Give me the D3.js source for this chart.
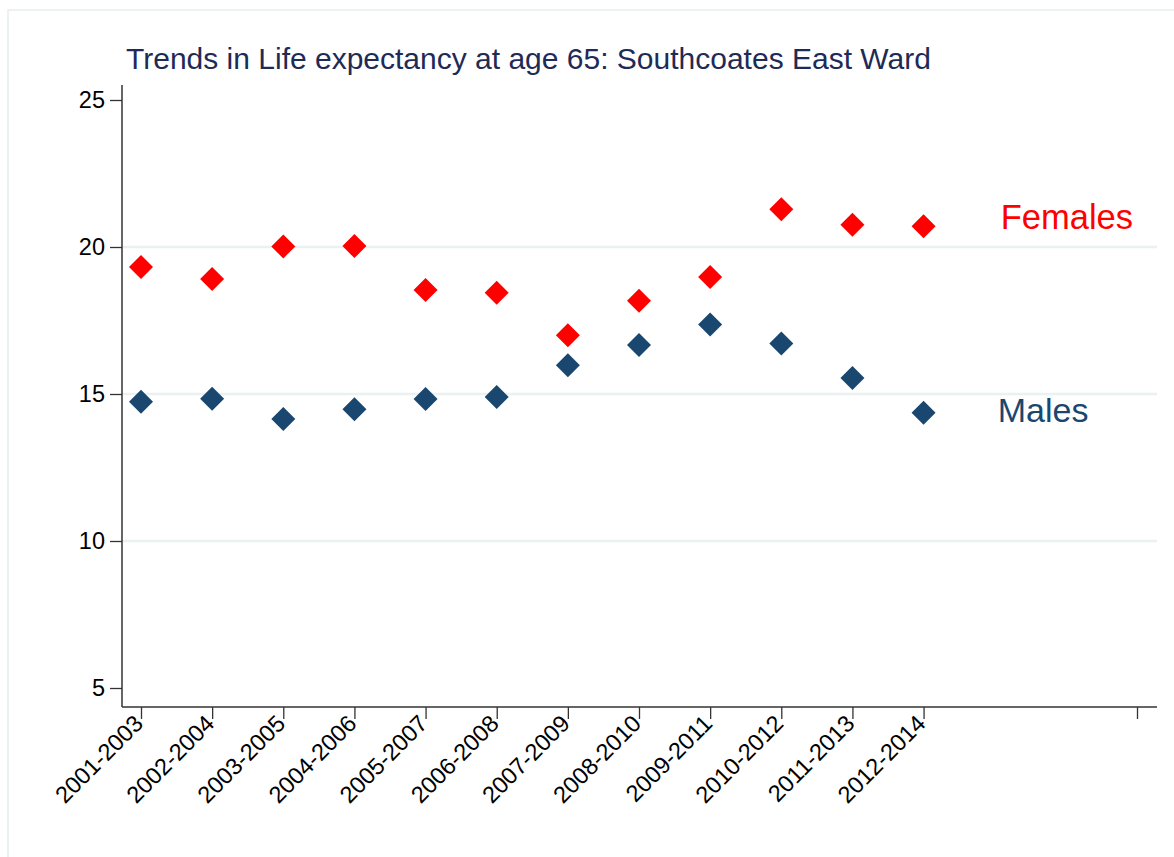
<!DOCTYPE html>
<html>
<head>
<meta charset="utf-8">
<script src="https://cdn.jsdelivr.net/npm/d3@7"></script>
<style>
  html, body { margin: 0; padding: 0; background: #fff; }
  svg { display: block; font-family: Arial, "Liberation Sans", sans-serif; }
</style>
</head>
<body>
<script>
// ---- data ----
const periods = ["2001-2003","2002-2004","2003-2005","2004-2006","2005-2007","2006-2008",
                 "2007-2009","2008-2010","2009-2011","2010-2012","2011-2013","2012-2014"];
const females = [19.32, 18.91, 20.02, 20.03, 18.54, 18.44, 17.0, 18.17, 18.98, 21.28, 20.76, 20.71];
const males   = [14.74, 14.84, 14.15, 14.48, 14.83, 14.90, 15.98, 16.67, 17.36, 16.72, 15.54, 14.36];
const yTicks = [5, 10, 15, 20, 25];
const gridValues = [10, 15, 20];
const titleText = "Trends in Life expectancy at age 65: Southcoates East Ward";
const seriesLabels = ["Females", "Males"];

const W = 1174, H = 857;
const svg = d3.select("body").append("svg").attr("width", W).attr("height", H);

// outer frame
svg.append("rect").attr("x", 8).attr("y", 10).attr("width", W).attr("height", H)
  .attr("fill", "#fff").attr("stroke", "#e6edf0").attr("stroke-width", 1.5);

const xLeft = 122, xRight = 1157, yTop = 85, yBottom = 707;

// scales
const x = d3.scaleLinear().domain([0, 14]).range([141, 1137]);
const y = d3.scaleLinear().domain([5, 25]).range([688, 100]);

// gridlines
svg.append("g").selectAll("line").data(gridValues).join("line")
  .attr("x1", xLeft).attr("x2", xRight)
  .attr("y1", d => y(d)).attr("y2", d => y(d))
  .attr("stroke", "#eaf1f3").attr("stroke-width", 2.5);

// y axis
const yAxis = d3.axisLeft(y).tickValues(yTicks).tickSize(12).tickPadding(5).tickSizeOuter(0);
const gy = svg.append("g").attr("transform", `translate(${xLeft},0)`).call(yAxis)
  .attr("font-size", 23.5).attr("font-family", "Arial, 'Liberation Sans', sans-serif");
gy.select(".domain").remove();
gy.append("line").attr("x1", 0).attr("x2", 0).attr("y1", yTop).attr("y2", yBottom)
  .attr("stroke", "#333").attr("stroke-width", 1.5);
gy.selectAll(".tick line").attr("stroke", "#333").attr("stroke-width", 1.3);
gy.selectAll(".tick text").attr("fill", "#000");

// x axis
const xTickVals = d3.range(periods.length).concat([14]);
const xAxis = d3.axisBottom(x).tickValues(xTickVals).tickSize(12).tickSizeOuter(0)
  .tickFormat(d => d < periods.length ? periods[d] : "");
const gx = svg.append("g").attr("transform", `translate(0,${yBottom})`).call(xAxis)
  .attr("font-size", 23.5).attr("font-family", "Arial, 'Liberation Sans', sans-serif");
gx.select(".domain").remove();
gx.append("line").attr("x1", xLeft).attr("x2", xRight).attr("y1", 0).attr("y2", 0)
  .attr("stroke", "#333").attr("stroke-width", 1.5);
gx.selectAll(".tick line").attr("stroke", "#333").attr("stroke-width", 1.3);
gx.selectAll(".tick text")
  .attr("fill", "#000")
  .attr("text-anchor", "end")
  .attr("dy", null).attr("y", 0)
  .attr("transform", "translate(3,18) rotate(-45)");

// diamonds
const r = 12;
const diamond = `M0,${-r}L${r},0L0,${r}L${-r},0Z`;
function drawSeries(vals, color) {
  svg.append("g").selectAll("path").data(vals).join("path")
    .attr("d", diamond)
    .attr("transform", (d, i) => `translate(${x(i)},${y(d)})`)
    .attr("fill", color);
}
drawSeries(females, "#ff0000");
drawSeries(males, "#1a476f");

// series labels
svg.append("text").attr("x", x(12) + 6).attr("y", y(females[11]) + 3)
  .attr("fill", "#ff0000").style("font-size", "34.5px").text(seriesLabels[0]);
svg.append("text").attr("x", x(12) + 3).attr("y", y(males[11]) + 9)
  .attr("fill", "#1a476f").style("font-size", "34px").text(seriesLabels[1]);

// title
svg.append("text").attr("x", 126).attr("y", 69)
  .attr("fill", "#1e2b56").style("font-size", "30px").text(titleText);
</script>
</body>
</html>
